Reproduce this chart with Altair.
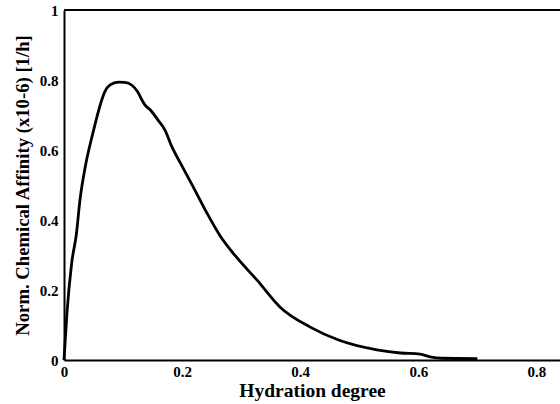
import altair as alt
import pandas as pd

hydration = [0.0, 0.005, 0.013, 0.021, 0.027, 0.036, 0.049, 0.063, 0.069, 0.078, 0.092,
             0.103, 0.115, 0.125, 0.132, 0.137, 0.147, 0.159, 0.171, 0.183, 0.197, 0.219,
             0.242, 0.264, 0.290, 0.327, 0.366, 0.417, 0.465, 0.530, 0.570, 0.603,
             0.620, 0.640, 0.700]
affinity = [0.0, 0.134, 0.277, 0.360, 0.457, 0.552, 0.649, 0.738, 0.766, 0.786, 0.794,
            0.793, 0.785, 0.766, 0.743, 0.729, 0.713, 0.686, 0.657, 0.608, 0.563, 0.494,
            0.420, 0.356, 0.298, 0.228, 0.151, 0.094, 0.057, 0.029, 0.020, 0.017,
            0.009, 0.005, 0.004]

x_ticks = [0, 0.2, 0.4, 0.6, 0.8]
y_ticks = [0, 0.2, 0.4, 0.6, 0.8, 1]

df = pd.DataFrame({"x": hydration, "y": affinity})

font = "Liberation Serif"

line = alt.Chart(df).mark_line(color="black", strokeWidth=2.8, interpolate="monotone").encode(
    x=alt.X("x:Q", scale=alt.Scale(domain=[0, 0.84], nice=False),
            axis=alt.Axis(values=x_ticks, title="Hydration degree", labelExpr="format(datum.value, '~g')",
                          ticks=False, grid=False, domainColor="black", domainWidth=2,
                          labelFont=font, labelFontWeight="bold", labelFontSize=15, labelColor="black",
                          labelPadding=4, titleFont=font, titleFontWeight="bold", titleFontSize=19.5,
                          titleColor="black", titlePadding=2, labelFlush=False)),
    y=alt.Y("y:Q", scale=alt.Scale(domain=[0, 1], nice=False),
            axis=alt.Axis(values=y_ticks, title="Norm. Chemical Affinity (x10-6) [1/h]",
                          labelExpr="format(datum.value, '~g')",
                          ticks=False, grid=False, domainColor="black", domainWidth=2,
                          labelFont=font, labelFontWeight="bold", labelFontSize=15, labelColor="black",
                          labelPadding=6, titleFont=font, titleFontWeight="bold", titleFontSize=18.7,
                          titleColor="black", titlePadding=7, labelFlush=False)),
)

top = alt.Chart(pd.DataFrame({"y": [1]})).mark_rule(color="black", strokeWidth=2).encode(y="y:Q")

chart = alt.layer(line, top).properties(
    width=496, height=350,
    autosize=alt.AutoSizeParams(type="none"),
    padding={"left": 64, "top": 10, "right": 0, "bottom": 44},
).configure_view(stroke=None).configure(background="white")

chart.save("out.html", embed_options={"renderer": "svg", "actions": False})
